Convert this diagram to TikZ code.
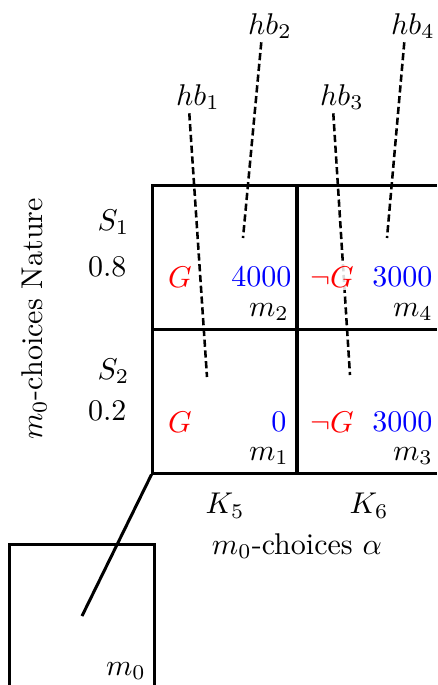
\documentclass[tikz,border=0pt]{standalone}
\usepackage{amsmath,amssymb}
\usepackage{xcolor}
\usetikzlibrary{positioning}

\begin{document}
\begin{tikzpicture}[
    x=0.3333pt, y=-0.3333pt,
    every node/.style={inner sep=1pt},
    cell/.style={
        rectangle,
        draw,
        line width=1pt,
        minimum width=48pt,
        minimum height=48pt
    },
    cover/.style={fill=white, fill opacity=0.85, text opacity=1},
    hint/.style={line width=0.85pt, dash pattern=on 2.4pt off 1.2pt},
    link/.style={line width=1pt}
]

\useasboundingbox (0,0) rectangle (437,685);
\clip (0,0) rectangle (437,685);

\node[cell] (m2) at (225,257) {};
\node[cell] (m4) at (369,257) {};
\node[cell] (m1) at (225,401) {};
\node[cell] (m3) at (369,401) {};
\node[cell] (m0) at (82,616) {};

\node[anchor=east] (s1) at (133,222) {$S_1$};
\node[anchor=east] (p1) at (130,267) {0.8};
\node[anchor=east] (s2) at (133,371) {$S_2$};
\node[anchor=east] (p2) at (130,411) {0.2};

\node[rotate=90] (nature) at (34,319) {$m_0$-choices Nature};

\node[below=5pt of m1] (k5) {$K_5$};
\node[below=5pt of m3] (k6) {$K_6$};
\node (alpha) at (297,546) {$m_0$-choices $\alpha$};

\node (hb1) at (198,97) {$hb_1$};
\node (hb2) at (270,26) {$hb_2$};
\node (hb3) at (342,97) {$hb_3$};
\node (hb4) at (413,26) {$hb_4$};

\coordinate (t1) at (207,377);
\coordinate (t2) at (243,238);
\coordinate (t3) at (350,375);
\coordinate (t4) at (387,238);

\foreach \i in {1,...,4}
    \draw[hint] ([xshift=-2.9pt]hb\i.south) -- (t\i);

\draw[link] (m1.south west) -- (m0.center);

\node[red] (g2) at (180,277) {$G$};
\node[blue, anchor=east] (v2) at (295,277) {4000};
\node[red, cover] (g4) at (332,277) {$\neg G$};
\node[blue, anchor=east] (v4) at (436,277) {3000};
\node[red] (g1) at (180,422) {$G$};
\node[blue, anchor=east] (v1) at (290,422) {0};
\node[red, cover] (g3) at (332,422) {$\neg G$};
\node[blue, anchor=east] (v3) at (436,422) {3000};

\foreach \i in {0,...,4}
    \node[anchor=south east, inner sep=3pt] (lm\i) at (m\i.south east) {$m_\i$};

\end{tikzpicture}
\end{document}
